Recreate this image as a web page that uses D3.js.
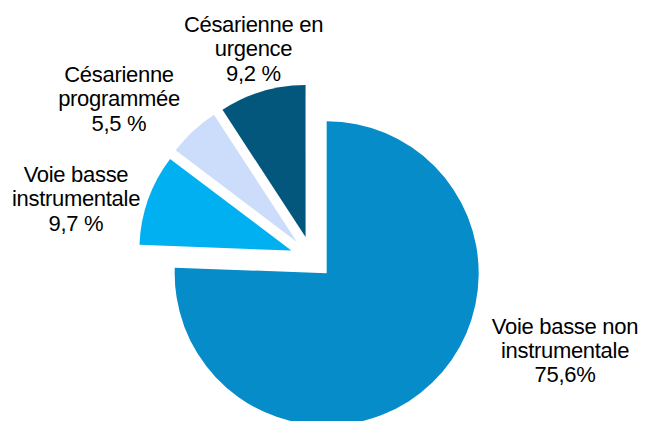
<!DOCTYPE html>
<html>
<head>
<meta charset="utf-8">
<script src="https://cdn.jsdelivr.net/npm/d3@7"></script>
<style>
  html, body { margin: 0; padding: 0; background: #fff; }
  svg { display: block; }
</style>
</head>
<body>
<svg id="chart"></svg>
<script>
// Data
const categories = ['Voie basse non instrumentale', 'Voie basse instrumentale', 'Césarienne programmée', 'Césarienne en urgence'];
const values = [75.6, 9.7, 5.5, 9.2];
const labelLines = [
  ['Voie basse non', 'instrumentale', '75,6%'],
  ['Voie basse', 'instrumentale', '9,7 %'],
  ['Césarienne', 'programmée', '5,5 %'],
  ['Césarienne en', 'urgence', '9,2 %']
];
const colors = ['#058cc9', '#00b0f0', '#ccddfb', '#03577c'];

const width = 645, height = 421;
const cx = 311.7, cy = 257.8; // pie centre
const radius = 152;
const explode = 21.6;          // every slice pulled out
const lineHeight = 24.4;

// label anchor (centre x, first baseline y)
const labelPos = [[565, 333.5], [76, 181.7], [119, 81.7], [253.5, 31.7]];

const svg = d3.select('#chart')
  .attr('width', width)
  .attr('height', height);

const pie = d3.pie().sort(null).value(d => d);
const arc = d3.arc().innerRadius(0).outerRadius(radius);
const arcs = pie(values);

const g = svg.append('g').attr('transform', `translate(${cx},${cy})`);

g.selectAll('path')
  .data(arcs)
  .enter()
  .append('path')
  .attr('d', arc)
  .attr('fill', (d, i) => colors[i])
  .attr('transform', d => {
    const mid = (d.startAngle + d.endAngle) / 2;
    return `translate(${Math.sin(mid) * explode},${-Math.cos(mid) * explode})`;
  });

// Labels
const labels = svg.selectAll('text.lbl')
  .data(labelLines)
  .enter()
  .append('text')
  .attr('class', 'lbl')
  .attr('text-anchor', 'middle')
  .attr('font-family', '"Liberation Sans", Arial, sans-serif')
  .attr('font-size', 22)
  .attr('letter-spacing', -0.3)
  .attr('fill', '#000');

labels.each(function (lines, i) {
  const t = d3.select(this);
  lines.forEach((line, j) => {
    t.append('tspan')
      .attr('x', labelPos[i][0])
      .attr('y', labelPos[i][1] + j * lineHeight)
      .text(line);
  });
});
</script>
</body>
</html>
